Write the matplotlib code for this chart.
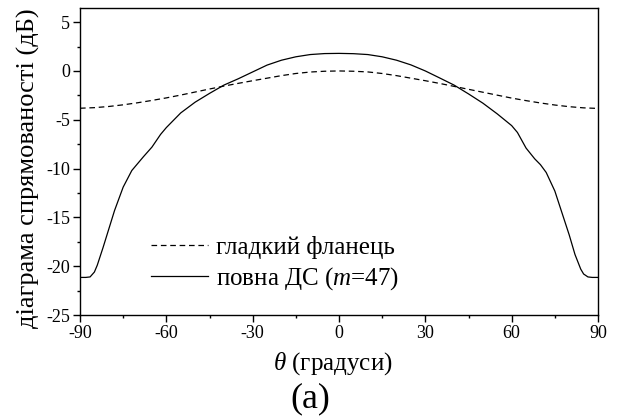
import matplotlib
matplotlib.use("Agg")
import matplotlib.pyplot as plt
from matplotlib.ticker import MultipleLocator

plt.rcParams.update({
    'font.family': 'Liberation Serif',
    'mathtext.fontset': 'custom',
    'mathtext.rm': 'Liberation Serif',
    'mathtext.it': 'Liberation Serif:italic',
})

# --- DATA ---
theta_flange = [-90, -85, -80, -75, -70, -65, -60, -55, -50, -45, -40, -35, -30, -25, -20, -15, -10, -5,
                0, 5, 10, 15, 20, 25, 30, 35, 40, 45, 50, 55, 60, 65, 70, 75, 80, 85, 90]
gain_flange = [-3.82, -3.76, -3.64, -3.47, -3.26, -3.02, -2.76, -2.47, -2.16, -1.85, -1.55, -1.27, -1.0,
               -0.74, -0.48, -0.26, -0.11, -0.03,
               0.0, -0.03, -0.1, -0.26, -0.48, -0.74, -1.0, -1.28, -1.58, -1.88, -2.18, -2.48, -2.78,
               -3.04, -3.28, -3.49, -3.66, -3.78, -3.84]

theta_full = [-90, -88, -86.5, -85, -84, -82, -80, -78, -75, -72, -70, -68, -65, -62, -60, -55, -50,
              -45, -40, -35, -30, -25, -20, -15, -10, -5,
              0, 5, 10, 15, 20, 25, 30, 35, 40, 45, 50, 55, 60, 62, 65, 68, 70, 72, 75, 78, 80, 82,
              84, 85, 86.5, 88, 90]
gain_full = [-21.15, -21.15, -21.1, -20.6, -19.9, -18.1, -16.2, -14.3, -11.9, -10.2, -9.5, -8.8, -7.8,
             -6.5, -5.8, -4.3, -3.2, -2.3, -1.45, -0.8, -0.1, 0.6, 1.1, 1.45, 1.68, 1.78,
             1.8, 1.77, 1.68, 1.45, 1.1, 0.62, 0.0, -0.72, -1.45, -2.35, -3.3, -4.4, -5.6, -6.3,
             -7.9, -9.0, -9.6, -10.4, -12.3, -15.0, -16.8, -18.8, -20.3, -20.8, -21.1, -21.15, -21.15]

x_ticks = [-90, -60, -30, 0, 30, 60, 90]
y_ticks = [-25, -20, -15, -10, -5, 0, 5]

fig = plt.figure(figsize=(6.2, 4.19), dpi=100)
ax = fig.add_axes([80 / 620, 1 - 315 / 419, 518 / 620, 307.5 / 419])

ax.plot(theta_flange, gain_flange, color='black', lw=0.9, ls=(0, (4.5, 3)), label='гладкий фланець')
ax.plot(theta_full, gain_full, color='black', lw=0.9, label='повна ДС ($m$=47)')

ax.set_xlim(-90, 90)
ax.set_ylim(-25, 6.5)
ax.set_xticks(x_ticks)
ax.set_yticks(y_ticks)
ax.set_xticklabels([str(t) for t in x_ticks])
ax.set_yticklabels([str(t) for t in y_ticks])
ax.xaxis.set_minor_locator(MultipleLocator(15))
ax.yaxis.set_minor_locator(MultipleLocator(2.5))
ax.tick_params(which='major', direction='out', length=5, width=1, labelsize=13, pad=2)
ax.tick_params(which='minor', direction='out', length=2.5, width=1)
for s in ax.spines.values():
    s.set_linewidth(1.0)

ax.set_ylabel('діаграма спрямованості (дБ)', fontsize=19)
ax.yaxis.set_label_coords(-0.078, 0.478)
ax.set_xlabel(r'$\theta$ (градуси)', fontsize=18)
ax.xaxis.set_label_coords(0.489, -0.115)
fig.text(310 / 620, 1 - 399 / 419, '(a)', fontsize=26, ha='center', va='center')

ax.legend(loc='center left', bbox_to_anchor=(0.137, 0.165), frameon=False, fontsize=18,
          handlelength=2.3, handletextpad=0.32, labelspacing=0.25, borderpad=0, borderaxespad=0)

fig.savefig('out.png', dpi=100)
